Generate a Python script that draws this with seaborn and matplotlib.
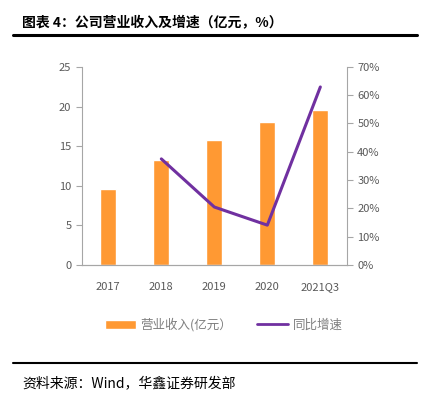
import matplotlib
matplotlib.use("Agg")
import matplotlib.pyplot as plt
import seaborn as sns
import pandas as pd

# 数据
years = ["2017", "2018", "2019", "2020", "2021Q3"]
revenue = [9.6, 13.2, 15.8, 18.1, 19.6]
growth_years = ["2018", "2019", "2020", "2021Q3"]
growth = [37.5, 20.5, 14.1, 62.9]

BAR_COLOR = "#FF9933"
LINE_COLOR = "#7030A0"
GRAY = "#595959"
AXIS_GRAY = "#A6A6A6"

sns.set_style("white")
plt.rcParams["font.family"] = ["Noto Sans CJK SC", "DejaVu Sans"]

df_bar = pd.DataFrame({"year": years, "revenue": revenue})
df_line = pd.DataFrame({"year": growth_years, "growth": growth})
df_line["pos"] = [years.index(y) for y in growth_years]

fig = plt.figure(figsize=(4.24, 3.98), dpi=100)
ax = fig.add_axes([0.193, 0.334, 0.625, 0.498])

sns.barplot(data=df_bar, x="year", y="revenue", color=BAR_COLOR, width=0.3,
            saturation=1, ax=ax, label="营业收入(亿元）")
ax.set_ylim(0, 25)
ax.set_yticks(range(0, 26, 5))
ax.set_xlim(-0.5, 4.5)
ax.set_xlabel("")
ax.set_ylabel("")

ax2 = ax.twinx()
sns.lineplot(data=df_line, x="pos", y="growth", color=LINE_COLOR, linewidth=2.2,
             ax=ax2, label="同比增速")
ax2.set_ylim(0, 70)
ax2.set_yticks(range(0, 71, 10))
ax2.set_yticklabels([f"{v}%" for v in range(0, 71, 10)])
ax2.set_xlim(-0.5, 4.5)
ax2.set_xlabel("")
ax2.set_ylabel("")
ax2.get_legend().remove()

for a in (ax, ax2):
    a.spines["top"].set_visible(False)
    for side in ("left", "right", "bottom"):
        a.spines[side].set_color(AXIS_GRAY)
        a.spines[side].set_linewidth(0.8)
    a.tick_params(axis="both", colors=AXIS_GRAY, labelcolor=GRAY, labelsize=8, length=4, width=0.8)
ax.spines["right"].set_visible(False)
ax2.spines["left"].set_visible(False)
ax.tick_params(axis="x", length=0, pad=12)
ax.tick_params(axis="y", left=True, direction="out")
ax2.tick_params(axis="y", right=True, direction="out")

# 图例
h1, l1 = ax.get_legend_handles_labels()
h2, l2 = ax2.get_legend_handles_labels()
if ax.get_legend() is not None:
    ax.get_legend().remove()
leg = fig.legend(h1 + h2, l1 + l2, loc="center", bbox_to_anchor=(0.528, 0.183), ncol=2,
                 frameon=False, fontsize=9, labelcolor="#7F7F7F", handlelength=2.5,
                 handleheight=0.8, handletextpad=0.35, columnspacing=2.0)
leg.get_lines()[0].set_linewidth(2)

# 标题与来源
fig.text(0.052, 0.942, "图表 4：公司营业收入及增速（亿元，%）", fontsize=10,
         fontweight="bold", color="black", va="center")
fig.add_artist(plt.Line2D([0.031, 0.984], [0.912, 0.912], color="black", linewidth=2.2))
fig.add_artist(plt.Line2D([0.031, 0.984], [0.088, 0.088], color="black", linewidth=1.5))
fig.text(0.052, 0.037, "资料来源：Wind，华鑫证券研发部", fontsize=10, color="black", va="center")

fig.savefig("out.png", dpi=100)
